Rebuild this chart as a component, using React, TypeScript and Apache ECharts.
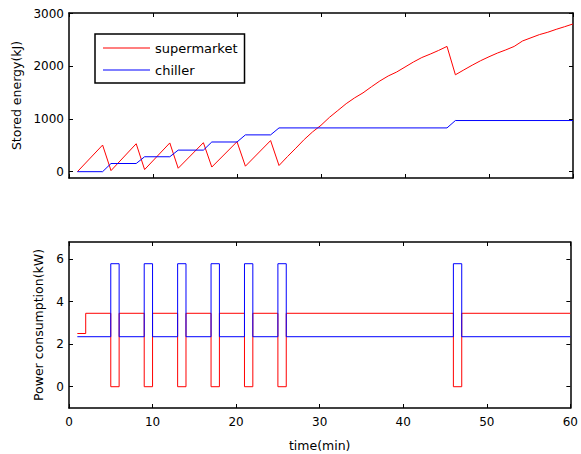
import React, { useEffect, useRef } from "react";
import * as echarts from "echarts";

// ---- Stored energy (kJ) vs time (min) ----
const supermarketTime = [1, 4, 5, 8, 9, 12, 13, 16, 17, 20, 21, 24, 25, 26, 27, 28, 29, 30, 31, 32, 33, 34, 35, 36, 37, 38, 39, 40, 41, 42, 43, 44, 45, 46, 47, 48, 49, 50, 51, 52, 53, 54, 55, 56, 57, 58, 59, 60];
const supermarketEnergy = [0, 505, 20, 530, 40, 545, 65, 550, 88, 568, 104, 590, 117, 285, 445, 610, 755, 880, 1030, 1160, 1290, 1400, 1495, 1610, 1720, 1815, 1890, 1985, 2080, 2165, 2230, 2300, 2376, 1838, 1930, 2020, 2105, 2180, 2250, 2310, 2376, 2480, 2540, 2600, 2645, 2700, 2750, 2802];
const chillerTime = [1, 4, 5, 8, 9, 12, 13, 16, 17, 20, 21, 24, 25, 45, 46, 60];
const chillerEnergy = [0, 0, 155, 155, 283, 283, 409, 409, 563, 563, 698, 698, 830, 830, 970, 970];

// ---- Power consumption (kW) vs time (min), change points (held until next point) ----
const supermarketPowerTime = [1, 2, 5, 6, 9, 10, 13, 14, 17, 18, 21, 22, 25, 26, 46, 47, 60];
const supermarketPower = [2.5, 3.45, 0, 3.45, 0, 3.45, 0, 3.45, 0, 3.45, 0, 3.45, 0, 3.45, 0, 3.45, 3.45];
const chillerPowerTime = [1, 5, 6, 9, 10, 13, 14, 17, 18, 21, 22, 25, 26, 46, 47, 60];
const chillerPower = [2.35, 5.78, 2.35, 5.78, 2.35, 5.78, 2.35, 5.78, 2.35, 5.78, 2.35, 5.78, 2.35, 5.78, 2.35, 2.35];

// ---- Axis ticks ----
const timeTicks = { min: 0, max: 60, interval: 10 };
const energyTicks = [0, 1000, 2000, 3000];
const powerTicks = [0, 2, 4, 6];

const seriesNames = ["supermarket", "chiller"];
const seriesColors = ["#ff0000", "#0000ff"];

const FONT = "DejaVu Sans";

const zip = (xs: number[], ys: number[]) => xs.map((x, i) => [x, ys[i]]);

export default function App() {
  const ref = useRef<HTMLDivElement>(null);

  useEffect(() => {
    if (!ref.current) return;
    const chart = echarts.init(ref.current, null, { renderer: "svg" });

    const tick = { show: true, inside: true, length: 4, lineStyle: { color: "#000", width: 1 } };
    const label = { color: "#000", fontFamily: FONT, fontSize: 12, formatter: (v: number) => String(v) };

    const xAxis = (gridIndex: number, position: string, showLabel: boolean, name?: string) => ({
      type: "value",
      gridIndex,
      position,
      min: timeTicks.min,
      max: timeTicks.max,
      interval: timeTicks.interval,
      axisLine: { show: true, onZero: false, lineStyle: { color: "#000", width: 1.5 } },
      axisTick: tick,
      splitLine: { show: false },
      axisLabel: { show: showLabel, margin: 8, ...label },
      name: name,
      nameLocation: "middle",
      nameGap: 31,
      nameTextStyle: { color: "#000", fontFamily: FONT, fontSize: 12.5 },
    });

    const yAxis = (
      gridIndex: number,
      position: string,
      min: number,
      max: number,
      ticks: number[],
      showLabel: boolean,
      name?: string,
      nameGap?: number
    ) => ({
      type: "value",
      gridIndex,
      position,
      min,
      max,
      axisLine: { show: true, onZero: false, lineStyle: { color: "#000", width: 1.5 } },
      axisTick: { ...tick, customValues: ticks },
      splitLine: { show: false },
      axisLabel: { show: showLabel, margin: 5, customValues: ticks, ...label },
      name: name,
      nameLocation: "middle",
      nameGap: nameGap,
      nameRotate: 90,
      nameTextStyle: { color: "#000", fontFamily: FONT, fontSize: 12.5 },
    });

    const line = (name: string, color: string, data: number[][], xi: number, yi: number, step?: string) => ({
      type: "line",
      name,
      data,
      xAxisIndex: xi,
      yAxisIndex: yi,
      symbol: "none",
      step: step || false,
      color,
      lineStyle: { color, width: 1 },
      emphasis: { disabled: true },
    });

    chart.setOption({
      animation: false,
      backgroundColor: "#fff",
      grid: [
        { left: 69, width: 504, top: 13, height: 165, show: false, containLabel: false },
        { left: 69, width: 504, top: 242, height: 166, show: false, containLabel: false },
      ],
      legend: {
        data: seriesNames,
        orient: "vertical",
        left: 95,
        top: 34,
        icon: "rect",
        itemWidth: 47,
        itemHeight: 1,
        itemGap: 8,
        padding: [7, 7, 6, 8],
        borderColor: "#000",
        borderWidth: 1.5,
        backgroundColor: "#fff",
        selectedMode: false,
        textStyle: { color: "#000", fontFamily: FONT, fontSize: 13, lineHeight: 14 },
      },
      xAxis: [
        xAxis(0, "bottom", false),
        xAxis(0, "top", false),
        xAxis(1, "bottom", true, "time(min)"),
        xAxis(1, "top", false),
      ],
      yAxis: [
        yAxis(0, "left", -120, 3010, energyTicks, true, "Stored energy(kJ)", 45),
        yAxis(0, "right", -120, 3010, energyTicks, false),
        yAxis(1, "left", -1, 6.8, powerTicks, true, "Power consumption(kW)", 20),
        yAxis(1, "right", -1, 6.8, powerTicks, false),
      ],
      series: [
        line(seriesNames[0], seriesColors[0], zip(supermarketTime, supermarketEnergy), 0, 0),
        line(seriesNames[1], seriesColors[1], zip(chillerTime, chillerEnergy), 0, 0),
        line(seriesNames[0], seriesColors[0], zip(supermarketPowerTime, supermarketPower), 2, 2, "end"),
        line(seriesNames[1], seriesColors[1], zip(chillerPowerTime, chillerPower), 2, 2, "end"),
      ],
    });

    return () => chart.dispose();
  }, []);

  return (
    <div
      ref={ref}
      style={{ position: "fixed", left: 0, top: 0, width: 581, height: 454, background: "#fff" }}
    />
  );
}
